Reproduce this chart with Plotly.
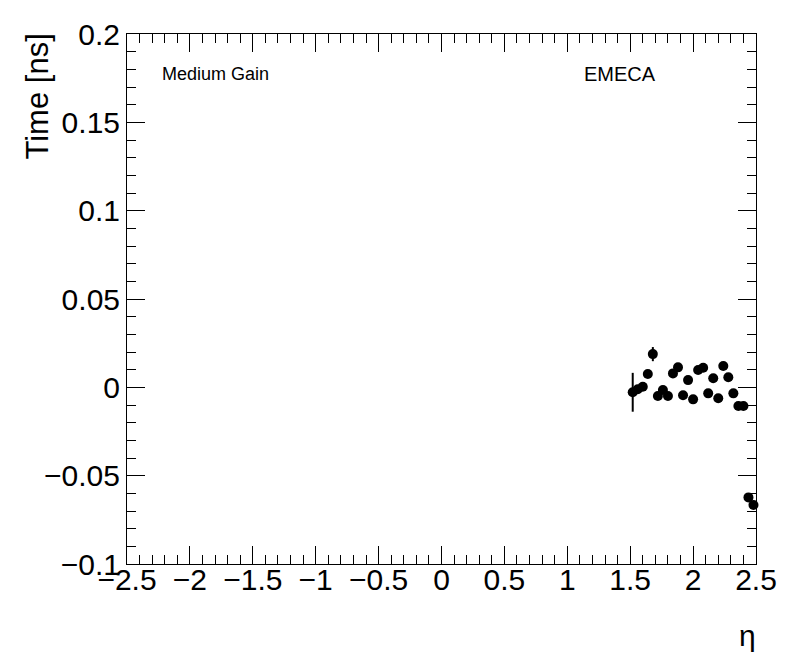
import plotly.graph_objects as go

eta = [1.52, 1.56, 1.60, 1.64, 1.68, 1.72, 1.76, 1.80, 1.84, 1.88, 1.92, 1.96, 2.00,
       2.04, 2.08, 2.12, 2.16, 2.20, 2.24, 2.28, 2.32, 2.36, 2.40, 2.44, 2.48]
time_ns = [-0.0028, -0.0011, 0.0003, 0.0075, 0.0188, -0.0049, -0.0015, -0.0049, 0.0079,
           0.0113, -0.0045, 0.0041, -0.0068, 0.0098, 0.0111, -0.0034, 0.0051, -0.0062,
           0.0121, 0.0057, -0.0034, -0.0106, -0.0106, -0.0623, -0.0666]
time_err = [0.011, 0.002, 0.002, 0.002, 0.004, 0.002, 0.002, 0.002, 0.002, 0.002,
            0.002, 0.002, 0.002, 0.002, 0.002, 0.002, 0.002, 0.002, 0.002, 0.002,
            0.002, 0.002, 0.002, 0.002, 0.002]

x_ticks = [-2.5, -2, -1.5, -1, -0.5, 0, 0.5, 1, 1.5, 2, 2.5]
x_labels = ["\u22122.5", "\u22122", "\u22121.5", "\u22121", "\u22120.5", "0", "0.5", "1", "1.5", "2", "2.5"]
y_ticks = [-0.1, -0.05, 0, 0.05, 0.1, 0.15, 0.2]
y_labels = ["\u22120.1", "\u22120.05", "0", "0.05", "0.1", "0.15", "0.2"]

FONT = "Liberation Sans, Arial, Helvetica, sans-serif"

fig = go.Figure()
fig.add_trace(go.Scatter(
    x=eta, y=time_ns, mode="markers",
    marker=dict(color="black", size=10, symbol="circle"),
    error_y=dict(type="data", array=time_err, color="black", thickness=2, width=0),
    showlegend=False, cliponaxis=False,
))

common = dict(showgrid=False, zeroline=False, showline=True, linecolor="black",
              linewidth=1, ticks="inside", ticklen=18, tickwidth=1, tickcolor="black",
              automargin=False)
fig.update_layout(
    width=796, height=672,
    margin=dict(l=119, r=48, t=26, b=116),
    plot_bgcolor="white", paper_bgcolor="white",
    font=dict(family=FONT, color="black"),
    xaxis=dict(range=[-2.5, 2.5], tickvals=x_ticks, ticktext=x_labels,
               tickfont=dict(size=30, family=FONT), ticklabelstandoff=-11,
               minor=dict(dtick=0.1, tick0=0, ticks="inside", ticklen=9, tickcolor="black"),
               **common),
    yaxis=dict(range=[-0.1, 0.2], tickvals=y_ticks, ticktext=y_labels,
               tickfont=dict(size=30, family=FONT),
               minor=dict(dtick=0.01, tick0=0, ticks="inside", ticklen=9, tickcolor="black"),
               **common),
    xaxis2=dict(range=[-2.5, 2.5], overlaying="x", side="top", tickvals=x_ticks,
                showticklabels=False, anchor="y",
                minor=dict(dtick=0.1, tick0=0, ticks="inside", ticklen=9, tickcolor="black"),
                **common),
    yaxis2=dict(range=[-0.1, 0.2], overlaying="y", side="right", tickvals=y_ticks,
                showticklabels=False, anchor="x",
                minor=dict(dtick=0.01, tick0=0, ticks="inside", ticklen=9, tickcolor="black"),
                **common),
)
fig.add_trace(go.Scatter(x=[None], y=[None], xaxis="x2", yaxis="y2", showlegend=False,
                         hoverinfo="skip"))

fig.add_annotation(text="Time [ns]", textangle=-90, xref="paper", yref="paper",
                   x=-0.142, y=1.004, xanchor="center", yanchor="top", showarrow=False,
                   font=dict(size=31, family=FONT))
fig.add_annotation(text="\u03b7", xref="paper", yref="paper",
                   x=0.987, y=-0.134, xanchor="center", yanchor="middle", showarrow=False,
                   font=dict(size=30, family=FONT))
fig.add_annotation(text="Medium Gain", xref="paper", yref="paper",
                   x=0.052, y=0.925, xanchor="left", yanchor="middle", showarrow=False,
                   font=dict(size=18, family=FONT))
fig.add_annotation(text="EMECA", xref="paper", yref="paper",
                   x=0.723, y=0.925, xanchor="left", yanchor="middle", showarrow=False,
                   font=dict(size=20, family=FONT))

fig.write_html("out.html")
